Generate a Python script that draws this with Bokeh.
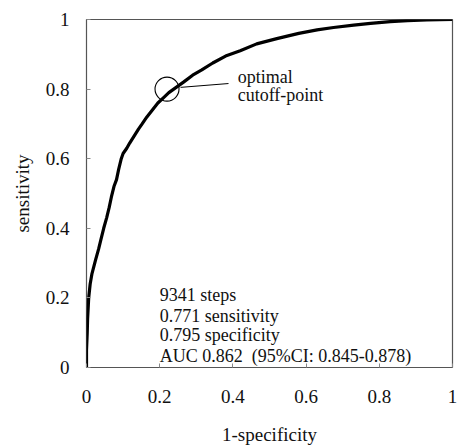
from bokeh.plotting import figure
from bokeh.models import ColumnDataSource, FixedTicker, Range1d
from bokeh.core.properties import value
from bokeh.embed import file_html
from bokeh.resources import INLINE

# ROC curve (1-specificity, sensitivity)
fpr = [0.0, 0.0, 0.002, 0.003, 0.005, 0.006, 0.010, 0.015, 0.020, 0.025, 0.033,
       0.040, 0.047, 0.055, 0.062, 0.068, 0.075, 0.082, 0.088, 0.095, 0.100,
       0.110, 0.118, 0.130, 0.142, 0.152, 0.165, 0.180, 0.195, 0.210, 0.225,
       0.245, 0.265, 0.290, 0.315, 0.345, 0.380, 0.420, 0.465, 0.520, 0.580,
       0.630, 0.675, 0.730, 0.776, 0.830, 0.877, 0.930, 1.0]
tpr = [0.0, 0.05, 0.10, 0.14, 0.18, 0.20, 0.24, 0.27, 0.29, 0.31, 0.34,
       0.37, 0.40, 0.43, 0.46, 0.49, 0.52, 0.54, 0.57, 0.60, 0.615,
       0.63, 0.645, 0.665, 0.685, 0.70, 0.72, 0.74, 0.76, 0.775, 0.79,
       0.805, 0.82, 0.84, 0.855, 0.875, 0.895, 0.91, 0.93, 0.945, 0.96,
       0.97, 0.977, 0.984, 0.989, 0.994, 0.997, 0.999, 1.0]

# optimal cutoff marker and annotations
cut_x = [0.22]
cut_y = [0.80]
leader_x = [0.257, 0.388]
leader_y = [0.805, 0.816]
opt_labels = ["optimal", "cutoff-point"]
opt_x = [0.413, 0.413]
opt_y = [0.836, 0.782]
stats_labels = ["9341 steps", "0.771 sensitivity", "0.795 specificity",
                "AUC 0.862 \u00a0(95%CI: 0.845-0.878)"]
stats_x = [0.2, 0.2, 0.2, 0.2]
stats_y = [0.207, 0.149, 0.092, 0.034]

ticks = [0, 0.2, 0.4, 0.6, 0.8, 1]
tick_labels = {0: "0", 0.2: "0.2", 0.4: "0.4", 0.6: "0.6", 0.8: "0.8", 1: "1"}

FONT = "Liberation Serif"

p = figure(width=457, height=447, output_backend="svg", toolbar_location=None,
           x_range=Range1d(0, 1), y_range=Range1d(0, 1),
           min_border_left=86, min_border_right=5, min_border_top=19,
           min_border_bottom=80)
p.background_fill_color = "white"
p.border_fill_color = "white"
p.outline_line_color = "#555555"
p.outline_line_width = 1.2
p.xgrid.grid_line_color = None
p.ygrid.grid_line_color = None

for ax in (p.xaxis[0], p.yaxis[0]):
    ax.ticker = FixedTicker(ticks=ticks)
    ax.major_label_overrides = tick_labels
    ax.axis_line_color = None
    ax.major_tick_in = 4
    ax.major_tick_out = 0
    ax.major_tick_line_color = "#888888"
    ax.minor_tick_line_color = None
    ax.major_label_text_font = FONT
    ax.major_label_text_font_size = "19px"
    ax.major_label_text_color = "#111111"
    ax.axis_label_text_font = FONT
    ax.axis_label_text_font_size = "19px"
    ax.axis_label_text_font_style = "normal"
    ax.axis_label_text_color = "#111111"

p.xaxis.axis_label = "1-specificity"
p.yaxis.axis_label = "sensitivity"
p.xaxis.major_label_standoff = 22
p.xaxis.axis_label_standoff = 18
p.yaxis.major_label_standoff = 17
p.yaxis.axis_label_standoff = 10

src = ColumnDataSource(dict(x=fpr, y=tpr))
p.line("x", "y", source=src, line_color="black", line_width=3.2)

p.scatter(cut_x, cut_y, size=24, marker="circle", fill_color=None,
          line_color="black", line_width=1.1)
p.line(leader_x, leader_y, line_color="black", line_width=1)

p.text(opt_x, opt_y, text=opt_labels, text_font=value(FONT),
       text_font_size="18px", text_baseline="middle", text_align="left",
       text_color="#111111")
p.text(stats_x, stats_y, text=stats_labels, text_font=value(FONT),
       text_font_size="18px", text_baseline="middle", text_align="left",
       text_color="#111111")

open("out.html", "w").write(file_html(p, INLINE))
